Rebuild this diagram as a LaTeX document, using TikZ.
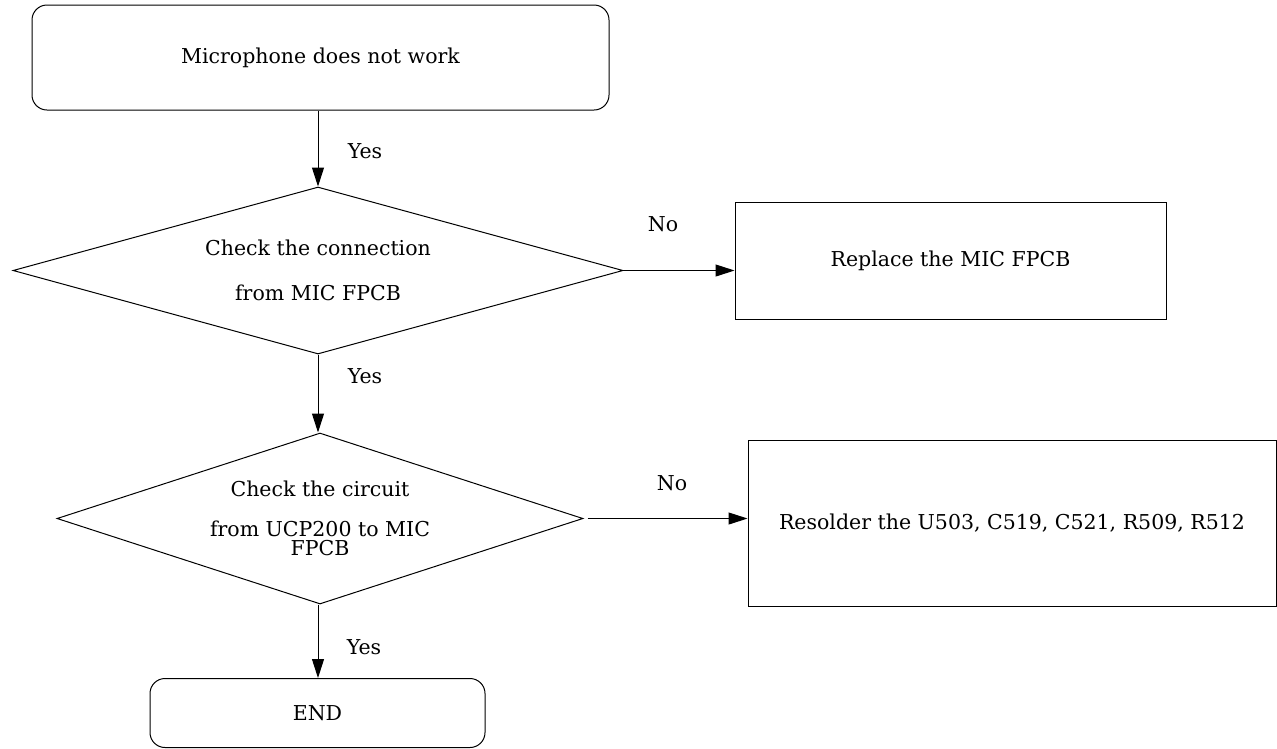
\documentclass[tikz,border=0pt]{standalone}
\usepackage{fontspec}
\setmainfont{DejaVu Serif}
\usetikzlibrary{shapes.geometric,arrows.meta}
\tikzstyle{chart} = [x = 1pt, y = -1pt, every node/.style={font=\fontsize{20.5}{22}\selectfont}]
\tikzstyle{terminalStyle} = [draw, rounded corners = 15pt, line width=1pt, inner sep=0pt]
\tikzstyle{decisionStyle} = [draw, diamond, line width=1pt, inner sep=0pt, align=center]
\tikzstyle{actionStyle} = [draw, rectangle, line width=1pt, inner sep=0pt]
\tikzstyle{flowArrow} = [line width=1pt, -{Triangle[length=19pt, width=12pt]}]
\tikzstyle{answerText} = [inner sep=0pt]

\begin{document}
\begin{tikzpicture}[chart]
  \useasboundingbox (0,0) rectangle (1277,748);
  % chain down the left side
  \node [terminalStyle, minimum width=577pt, minimum height=105pt] (micStart) at (320.5,57.5) {Microphone does not work};
  \node [decisionStyle, aspect=3.65, minimum width=610pt, minimum height=167pt] (checkConn) at (318,270.5) {Check the connection\\[23pt]from MIC FPCB};
  \node [decisionStyle, aspect=3.08, minimum width=526pt, minimum height=171pt] (checkCircuit) at (320,518.5) {Check the circuit\\[18pt]from UCP200 to MIC\\[-3pt]FPCB};
  \node [terminalStyle, minimum width=335pt, minimum height=69pt] (endNode) at (317.5,713) {END};
  % actions on the right
  \node [actionStyle, minimum width=431pt, minimum height=117pt] (replaceMic) at (950.5,260.5) {Replace the MIC FPCB};
  \node [actionStyle, minimum width=528pt, minimum height=166pt] (resolder) at (1012,523) {Resolder the U503, C519, C521, R509, R512};
  % connectors
  \draw [flowArrow] (checkConn.north |- micStart.south) -- (checkConn.north);
  \draw [flowArrow] (checkConn.south) -- (checkConn.south |- checkCircuit.north);
  \draw [flowArrow] (checkConn.south |- checkCircuit.south) -- (checkConn.south |- endNode.north);
  \draw [flowArrow] (checkConn.east) -- (checkConn.east -| replaceMic.west);
  \draw [flowArrow, shorten <=4pt] (checkCircuit.east) -- (checkCircuit.east -| resolder.west);
  % answers
  \node [answerText] (yesOne) at (365,151) {Yes};
  \node [answerText] (yesTwo) at (365,376) {Yes};
  \node [answerText] (yesThree) at (364,647) {Yes};
  \node [answerText] (noOne) at (663,224) {No};
  \node [answerText] (noTwo) at (672,483) {No};
\end{tikzpicture}
\end{document}
